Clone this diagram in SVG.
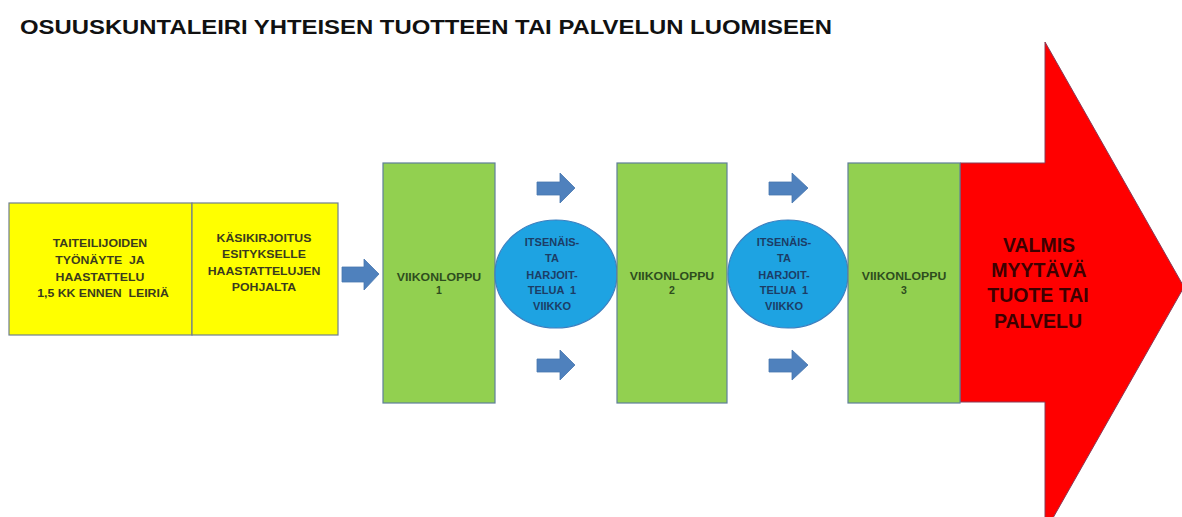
<svg xmlns="http://www.w3.org/2000/svg" width="1182" height="517" viewBox="0 0 1182 517">
<style>
  text { font-family: "Liberation Sans", Arial, sans-serif; font-weight: bold; text-anchor: middle; white-space: pre; }
  .title { font-size: 20px; fill: #111; text-anchor: start; }
  .sx { transform-box: fill-box; transform-origin: center; transform: scaleX(1.17); }
  .ytxt { font-size: 10.5px; fill: #3b3b1e; }
  .gtxt { font-size: 10.5px; fill: #2e4d1e; }
  .btxt { font-size: 11px; fill: #1c3d66; }
  .rtxt { font-size: 19.5px; fill: #3d0000; }
  .yel { fill: #ffff00; stroke: #6f7f8f; stroke-width: 1.2; }
  .grn { fill: #92d050; stroke: #5f7f99; stroke-width: 1.2; }
  .ell { fill: #1ea3e2; stroke: #3d7fbf; stroke-width: 1.2; }
  .red { fill: #ff0000; stroke: #8a3a55; stroke-width: 1; }
  .arr { fill: #4f81bd; stroke: #4676ae; stroke-width: 0.8; }
</style>
<rect width="1182" height="517" fill="#ffffff"/>
<text class="title" x="20" y="34" textLength="812" lengthAdjust="spacingAndGlyphs">OSUUSKUNTALEIRI YHTEISEN TUOTTEEN TAI PALVELUN LUOMISEEN</text>

<g id="node-red-arrow">
  <polygon class="red" points="960,163 1045,163 1045,42 1184,287 1045,532 1045,402 960,402"/>
  <text class="rtxt" x="1039" y="252">VALMIS</text>
  <text class="rtxt" x="1039" y="277">MYYTÄVÄ</text>
  <text class="rtxt" x="1038" y="302">TUOTE TAI</text>
  <text class="rtxt" x="1038" y="328">PALVELU</text>
</g>

<g id="node-tyonayte">
  <rect class="yel" x="9" y="203" width="183" height="132"/>
  <text class="ytxt sx" x="100" y="247">TAITEILIJOIDEN</text>
  <text class="ytxt sx" x="100" y="264">TYÖNÄYTE  JA</text>
  <text class="ytxt sx" x="100" y="281">HAASTATTELU</text>
  <text class="ytxt sx" x="103" y="297">1,5 KK ENNEN  LEIRIÄ</text>
</g>

<g id="node-kasikirjoitus">
  <rect class="yel" x="192" y="203" width="146" height="132"/>
  <text class="ytxt sx" x="264" y="242">KÄSIKIRJOITUS</text>
  <text class="ytxt sx" x="264" y="258">ESITYKSELLE</text>
  <text class="ytxt sx" x="264" y="275">HAASTATTELUJEN</text>
  <text class="ytxt sx" x="264" y="291">POHJALTA</text>
</g>

<g id="node-viikonloppu1">
  <rect class="grn" x="383" y="163" width="112" height="240"/>
  <text class="gtxt sx" x="439" y="281">VIIKONLOPPU</text>
  <text class="gtxt" x="439" y="294">1</text>
</g>

<g id="node-harjoittelu1">
  <ellipse class="ell" cx="556" cy="274" rx="61" ry="54"/>
  <text class="btxt" x="552" y="246">ITSENÄIS-</text>
  <text class="btxt" x="552" y="262">TA</text>
  <text class="btxt" x="552" y="279">HARJOIT-</text>
  <text class="btxt" x="552" y="294">TELUA  1</text>
  <text class="btxt" x="552" y="310">VIIKKO</text>
</g>

<g id="node-viikonloppu2">
  <rect class="grn" x="617" y="163" width="110" height="240"/>
  <text class="gtxt sx" x="672" y="280">VIIKONLOPPU</text>
  <text class="gtxt" x="672" y="294">2</text>
</g>

<g id="node-harjoittelu2">
  <ellipse class="ell" cx="788" cy="274" rx="60" ry="54"/>
  <text class="btxt" x="784" y="246">ITSENÄIS-</text>
  <text class="btxt" x="784" y="262">TA</text>
  <text class="btxt" x="784" y="279">HARJOIT-</text>
  <text class="btxt" x="784" y="294">TELUA  1</text>
  <text class="btxt" x="784" y="310">VIIKKO</text>
</g>

<g id="node-viikonloppu3">
  <rect class="grn" x="848" y="163" width="112" height="240"/>
  <text class="gtxt sx" x="904" y="280">VIIKONLOPPU</text>
  <text class="gtxt" x="904" y="294">3</text>
</g>

<g id="connectors">
  <polygon class="arr" points="342,267 364,267 364,259 379,274 364,290 364,282 342,282"/>
  <polygon class="arr" points="537,182 560,182 560,173 575,188 560,203 560,195 537,195"/>
  <polygon class="arr" points="537,359 560,359 560,350 575,365 560,380 560,372 537,372"/>
  <polygon class="arr" points="769,182 792,182 792,173 808,188 792,203 792,195 769,195"/>
  <polygon class="arr" points="769,359 792,359 792,350 808,365 792,380 792,372 769,372"/>
</g>
</svg>
